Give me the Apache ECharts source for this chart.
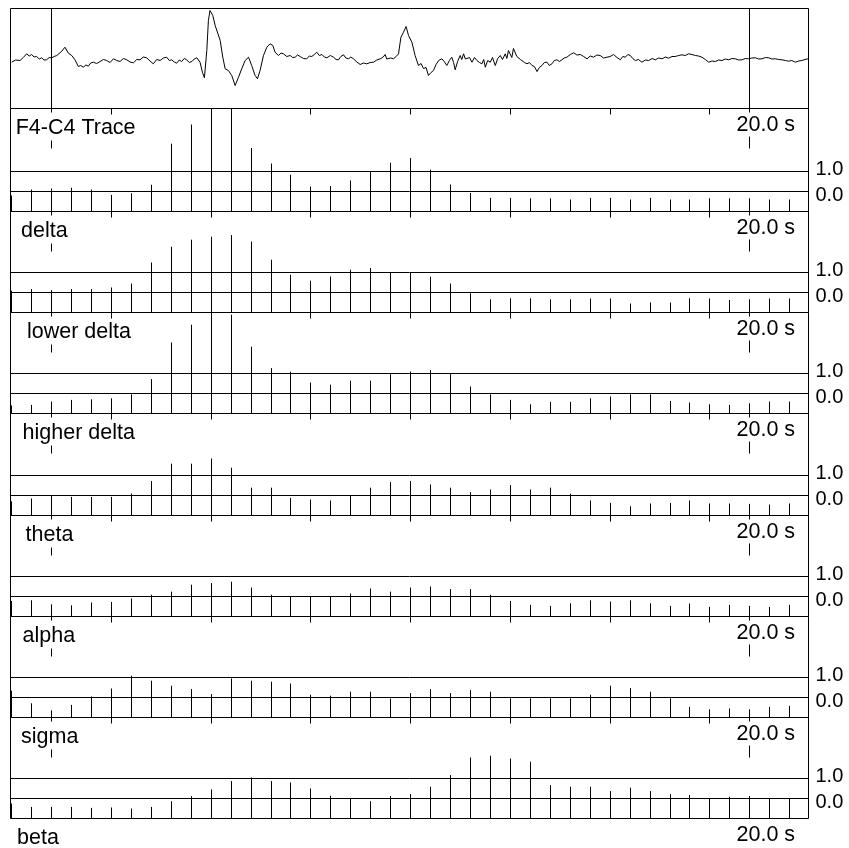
<!DOCTYPE html>
<html>
<head>
<meta charset="utf-8">
<script src="https://cdn.jsdelivr.net/npm/echarts@6.0.0/dist/echarts.min.js"></script>
<style>
    html, body { margin: 0; padding: 0; background: #fff; }
    #main { width: 849px; height: 848px; }
</style>
</head>
<body>
<div id="main"></div>
<script>
    'use strict';

    // labels
    var TRACE_LABEL = 'F4-C4 Trace';
    var BAND_NAMES = ['delta', 'lower delta', 'higher delta', 'theta', 'alpha', 'sigma', 'beta'];
    var WINDOW_LABEL = '20.0 s';

    // epoch positions (in epochs) of the window markers and the axis ticks
    var MARKERS = [2, 37];
    var TICK_STEPS = [5, 10, 15, 20, 25, 30, 35];
    var REF_LEVELS = [0, 1];

    // relative band power per epoch (bottom of a panel = -1.0)
    var DELTA = [-0.2, 0.1, 0.15, 0.19, 0.1, -0.17, -0.09, 0.34, 2.39, 3.35, 4.8, 4.6, 2.17, 1.4, 0.84, 0.25, 0.27, 0.55, 0.97, 1.44,
        1.67, 1.09, 0.35, -0.07, -0.32, -0.32, -0.34, -0.34, -0.4, -0.32, -0.32, -0.4, -0.32, -0.4, -0.4, -0.34, -0.34, -0.34, -0.4, -0.4];
    var LOWER_DELTA = [0.09, 0.17, 0.12, 0.17, 0.17, 0.25, 0.45, 1.5, 2.29, 2.64, 2.79, 2.87, 2.55, 1.64, 0.89, 0.59, 0.8, 1.14, 1.22, 1.0,
        1.0, 0.79, 0.45, -0.04, -0.34, -0.29, -0.29, -0.34, -0.34, -0.3, -0.3, -0.55, -0.5, -0.5, -0.29, -0.3, -0.37, -0.34, -0.3, -0.3];
    var HIGHER_DELTA = [-0.6, -0.57, -0.4, -0.32, -0.29, -0.24, -0.04, 0.72, 2.55, 3.44, 4.6, 3.94, 2.34, 1.27, 1.09, 0.55, 0.44, 0.64, 0.64, 0.97,
        1.1, 1.17, 0.97, 0.35, -0.04, -0.32, -0.54, -0.42, -0.42, -0.24, -0.15, -0.04, -0.04, -0.37, -0.45, -0.54, -0.57, -0.49, -0.4, -0.4];
    var THETA = [-0.29, -0.15, 0, -0.07, -0.07, -0.07, 0.1, 0.72, 1.59, 1.59, 1.85, 1.39, 0.39, 0.39, -0.12, -0.2, -0.25, 0, 0.39, 0.67,
        0.72, 0.55, 0.39, 0.17, 0.3, 0.52, 0.3, 0.39, 0.09, -0.25, -0.37, -0.54, -0.4, -0.37, -0.25, -0.4, -0.4, -0.42, -0.45, -0.4];
    var ALPHA = [-0.22, -0.19, -0.39, -0.44, -0.3, -0.27, -0.1, 0.09, 0.24, 0.59, 0.67, 0.74, 0.45, 0.09, 0, 0, 0, 0.15, 0.4, 0.24,
        0.45, 0.5, 0.37, 0.37, 0.09, -0.22, -0.42, -0.47, -0.34, -0.19, -0.25, -0.19, -0.34, -0.47, -0.35, -0.52, -0.42, -0.47, -0.52, -0.42];
    var SIGMA = [0.34, -0.29, -0.64, -0.37, 0.05, 0.45, 1.09, 0.84, 0.59, 0.42, 0.17, 0.95, 0.84, 0.79, 0.7, 0.14, 0.09, 0.29, 0.29, -0.05,
        0.22, 0.42, 0.22, 0.37, 0.29, -0.04, -0.04, -0.04, -0.04, 0.14, 0.59, 0.47, 0.29, -0.04, -0.47, -0.59, -0.55, -0.59, -0.47, -0.42];
    var BETA = [-0.25, -0.42, -0.42, -0.42, -0.47, -0.45, -0.5, -0.42, -0.14, 0.12, 0.45, 0.87, 1.05, 0.87, 0.8, 0.5, 0.14, 0, -0.14, 0.12,
        0.22, 0.59, 1.17, 2.05, 2.14, 2.0, 1.84, 0.67, 0.59, 0.59, 0.37, 0.54, 0.37, 0.22, 0.17, 0, 0.09, 0.12, 0, 0];
    var BANDS = [DELTA, LOWER_DELTA, HIGHER_DELTA, THETA, ALPHA, SIGMA, BETA];

    // raw F4-C4 trace: [time (epochs), amplitude]
    var TRACE = [
        [0, -3.7], [0.2, -1.5], [0.42, -2], [0.58, 1], [0.75, 4.7], [0.88, 2.5], [1.0, 4], [1.12, 1.5], [1.25, 2], [1.38, -0.5],
        [1.5, 0.7], [1.62, -1.5], [1.75, -1.3], [1.88, 1], [2.0, 0.7], [2.13, 2], [2.26, 3], [2.38, 5], [2.51, 7.3], [2.67, 11.3],
        [2.84, 5.3], [3.01, 3], [3.17, -1.3], [3.34, -8], [3.46, -7], [3.59, -8.7], [3.72, -6.5], [3.84, -7.7], [3.96, -4.5], [4.09, -3.7],
        [4.26, -5], [4.43, -3], [4.6, -1], [4.76, -2], [4.93, -4], [5.1, -0.3], [5.27, -2], [5.43, -3], [5.6, 0], [5.77, -1.3],
        [5.93, -3.5], [6.1, -4.3], [6.27, -1], [6.43, -1.3], [6.6, 1.5], [6.77, 0.7], [6.93, -2.5], [7.1, -5.3], [7.27, -1], [7.44, -2],
        [7.6, 0.5], [7.77, 1.3], [7.9, -2], [8.02, -1.3], [8.15, -3.5], [8.27, -4.7], [8.4, -1.5], [8.52, -3], [8.65, 0], [8.77, -1.3],
        [8.9, -4], [9.03, -3], [9.15, -0.5], [9.28, 0.7], [9.36, -1.5], [9.44, -3.7], [9.56, -13.7], [9.66, -19.3], [9.78, 8], [9.86, 38],
        [9.94, 48], [10.08, 43], [10.2, 33], [10.28, 31.3], [10.45, 18], [10.58, 1.3], [10.7, -10.3], [10.78, -9], [10.86, -12], [10.95, -11],
        [11.03, -17], [11.2, -27], [11.37, -18.7], [11.53, -10.3], [11.7, -2], [11.87, 1.3], [12.03, -7], [12.2, -17], [12.32, -20.3], [12.45, -12],
        [12.62, 3], [12.79, 11.3], [12.95, 14.7], [13.09, 13], [13.2, 6.3], [13.37, 3], [13.5, 5.5], [13.62, 4.7], [13.79, 2], [13.96, 3],
        [14.08, 1], [14.21, 1.3], [14.33, 3.5], [14.46, 2], [14.62, 0], [14.79, -0.3], [14.92, 2.5], [15.04, 2], [15.17, 4], [15.29, 6.3],
        [15.42, 3], [15.55, 4], [15.67, 1.5], [15.8, 0.7], [15.97, 3], [16.13, 1.3], [16.26, -1], [16.38, -1.3], [16.5, 2], [16.63, 3.7],
        [16.75, 0.5], [16.88, -0.3], [17.0, 1.5], [17.13, -0.3], [17.3, -3.5], [17.47, -6], [17.63, -4.5], [17.8, -5.3], [17.97, -4], [18.14, -3.7],
        [18.3, -1.5], [18.47, -0.3], [18.6, 1], [18.72, 4], [18.8, -0.5], [18.89, -2], [19.0, 0.5], [19.14, -0.3], [19.27, 2], [19.39, 4.7],
        [19.51, 21.3], [19.64, 26.3], [19.77, 32], [19.89, 23], [20.06, 16.3], [20.22, 3], [20.39, -7], [20.52, -5], [20.64, -10], [20.77, -9],
        [20.89, -17], [21.02, -14], [21.14, -12], [21.27, -6], [21.4, -2], [21.48, -4], [21.56, -0.3], [21.68, -3], [21.81, -7], [21.94, -2],
        [22.06, 1.3], [22.15, -4], [22.23, -11.3], [22.35, -3], [22.48, 3], [22.56, -1], [22.65, 4.7], [22.74, -0.5], [22.82, -2], [22.95, 1],
        [23.07, -3.7], [23.2, 1], [23.32, -2], [23.45, -4], [23.57, -5.3], [23.66, -1], [23.74, -8.7], [23.86, -2], [23.99, -3.7], [24.1, 1],
        [24.24, -7], [24.36, 0], [24.49, 3], [24.6, -1], [24.74, 4.7], [24.82, 0], [24.9, 8], [24.99, 6.3], [25.07, 1], [25.15, 10],
        [25.24, 8.7], [25.32, 2], [25.41, 3], [25.5, -1], [25.58, -2], [25.7, -4], [25.83, -5.3], [25.95, -4], [26.08, -7], [26.2, -8],
        [26.33, -13], [26.45, -9], [26.58, -7], [26.7, -4], [26.83, -3.7], [26.95, -7], [27.08, -5.3], [27.2, -2], [27.33, -1.3], [27.45, -3],
        [27.58, -1.3], [27.7, 0.5], [27.83, 1.3], [28.0, 4], [28.17, 5.7], [28.33, 3.5], [28.5, 4], [28.67, 2], [28.84, -0.3], [29.0, 2.5],
        [29.17, 1.3], [29.33, 3.5], [29.5, 3], [29.67, 0.5], [29.84, 1.3], [30.0, 2], [30.17, 4], [30.34, 1], [30.51, -1.3], [30.63, 2],
        [30.76, 1.3], [30.88, 4], [31.01, 3], [31.13, 0], [31.26, -2], [31.42, -1], [31.59, -3.7], [31.76, -1.5], [31.93, -2], [32.1, 0],
        [32.26, -1.3], [32.43, 0.5], [32.6, -0.3], [32.76, 1.5], [32.93, 0.3], [33.1, 2], [33.26, 2], [33.43, 3], [33.6, 3.7], [33.76, 3],
        [33.93, 4.7], [34.1, 4], [34.27, 3], [34.43, 2.5], [34.6, 1.3], [34.77, -1], [34.94, -3.7], [35.1, -2.5], [35.27, -3], [35.44, -1.5],
        [35.61, -2], [35.77, -0.5], [35.94, -1.3], [36.1, 0], [36.27, -0.3], [36.44, -1.5], [36.61, -1.3], [36.77, 0], [36.94, -0.3], [37.1, 0.5],
        [37.28, 0.7], [37.44, -0.5], [37.61, -0.3], [37.78, 1], [37.95, 0.7], [38.1, -0.5], [38.28, -0.3], [38.45, -1], [38.61, -1.3], [38.78, -2],
        [38.95, -2.7], [39.1, -2], [39.28, -3.7], [39.45, -2.5], [39.61, -2], [39.76, -1], [39.91, -0.3]
    ];

    // layout
    var FONT_FAMILY = '"Liberation Sans", Arial, sans-serif';
    var LEFT = 10.5;
    var WIDTH = 798;
    var TRACE_TOP = 8;
    var PANEL_TOPS = [108, 211, 312, 413, 515, 616, 717];
    var PANEL_BOTTOM = 818;
    var X_MIN = -0.06;
    var X_MAX = 39.94;
    var PX_PER_UNIT = 20;
    var NAME_X = [15.7, 21, 27, 22.6, 25.6, 22.5, 21, 17];
    var WINDOW_X = 736.5;
    var MARK_TOP = [32, 28];

    var chart = echarts.init(document.getElementById('main'), null, {renderer: 'canvas'});

    function hiddenAxis(extra) {
        var axis = {
            axisLine: {show: false},
            axisTick: {show: false},
            axisLabel: {show: false},
            splitLine: {show: false}
        };
        for (var key in extra) {
            axis[key] = extra[key];
        }
        return axis;
    }

    // stem from panel bottom up to the band value, clipped at the panel top
    function stemItem(params, api) {
        var cs = params.coordSys;
        var p = api.coord([api.value(0), api.value(1)]);
        var x = Math.floor(p[0]) + 0.5;
        return {
            type: 'line',
            shape: {x1: x, y1: cs.y + cs.height, x2: x, y2: Math.max(p[1], cs.y)},
            style: {stroke: '#000', lineWidth: 1}
        };
    }

    // ticks on the top edge of a panel; kind 1 = window marker with its short mark, kind 2 = full line
    function tickItem(params, api) {
        var cs = params.coordSys;
        var p = api.coord([api.value(0), 0]);
        var x = Math.floor(p[0]) + 0.5;
        var kind = api.value(1);
        var style = {stroke: '#000', lineWidth: 1};
        if (kind === 0) {
            return {type: 'line', shape: {x1: x, y1: cs.y, x2: x, y2: cs.y + 6}, style: style};
        }
        if (kind === 2) {
            return {type: 'line', shape: {x1: x, y1: cs.y, x2: x, y2: cs.y + cs.height}, style: style};
        }
        return {
            type: 'group',
            children: [
                {type: 'line', shape: {x1: x, y1: cs.y, x2: x, y2: cs.y + 4}, style: style},
                {type: 'line', shape: {x1: x, y1: cs.y + MARK_TOP[api.value(2)], x2: x, y2: cs.y + 40}, style: style}
            ]
        };
    }

    var grids = [];
    var xAxes = [];
    var yAxes = [];
    var series = [];

    // trace panel
    grids.push({left: LEFT, top: TRACE_TOP + 0.5, width: WIDTH, height: PANEL_TOPS[0] - TRACE_TOP,
        show: true, borderColor: '#000', borderWidth: 1, backgroundColor: 'transparent'});
    xAxes.push(hiddenAxis({type: 'value', gridIndex: 0, min: X_MIN, max: X_MAX}));
    yAxes.push(hiddenAxis({type: 'value', gridIndex: 0, min: -50, max: 50}));
    series.push({
        type: 'line',
        xAxisIndex: 0,
        yAxisIndex: 0,
        data: TRACE,
        symbol: 'none',
        lineStyle: {color: '#000', width: 1},
        silent: true
    });
    series.push({
        type: 'custom',
        xAxisIndex: 0,
        yAxisIndex: 0,
        data: MARKERS.map(function (m) { return [m, 2]; }),
        renderItem: tickItem,
        silent: true
    });

    // band panels
    BANDS.forEach(function (values, k) {
        var top = PANEL_TOPS[k];
        var bottom = k + 1 < PANEL_TOPS.length ? PANEL_TOPS[k + 1] : PANEL_BOTTOM;
        var h = bottom - top;
        var g = k + 1;
        grids.push({left: LEFT, top: top + 0.5, width: WIDTH, height: h,
            show: true, borderColor: '#000', borderWidth: 1, backgroundColor: 'transparent'});
        xAxes.push(hiddenAxis({type: 'value', gridIndex: g, min: X_MIN, max: X_MAX}));
        yAxes.push(hiddenAxis({
            type: 'value',
            gridIndex: g,
            position: 'right',
            min: -1,
            max: -1 + h / PX_PER_UNIT,
            axisLabel: {
                show: true,
                customValues: REF_LEVELS,
                margin: 7,
                formatter: function (v) {
                    return (v > 0 ? '{u|' : '{d|') + v.toFixed(1) + '}';
                },
                rich: {
                    u: {fontSize: 20, fontFamily: FONT_FAMILY, color: '#000', padding: [0, 0, 5, 0]},
                    d: {fontSize: 20, fontFamily: FONT_FAMILY, color: '#000', padding: [7, 0, 0, 0]}
                }
            }
        }));
        series.push({
            type: 'custom',
            name: BAND_NAMES[k],
            xAxisIndex: g,
            yAxisIndex: g,
            data: values.map(function (v, i) { return [i, v]; }),
            renderItem: stemItem,
            silent: true,
            markLine: {
                silent: true,
                symbol: ['none', 'none'],
                label: {show: false},
                lineStyle: {color: '#000', type: 'solid', width: 1},
                data: REF_LEVELS.map(function (v) { return {yAxis: v}; })
            }
        });
        series.push({
            type: 'custom',
            xAxisIndex: g,
            yAxisIndex: g,
            data: TICK_STEPS.map(function (t) { return [t, 0, 0]; })
                .concat(MARKERS.map(function (m, j) { return [m, 1, j]; })),
            renderItem: tickItem,
            silent: true
        });
    });

    // panel names and window labels
    var labelTops = PANEL_TOPS.concat([PANEL_BOTTOM]);
    var graphics = [];
    labelTops.forEach(function (top, k) {
        graphics.push({
            type: 'text',
            x: NAME_X[k],
            y: top + 20.5,
            style: {
                text: k === 0 ? TRACE_LABEL : BAND_NAMES[k - 1],
                fill: '#000',
                fontSize: 21.5,
                fontFamily: FONT_FAMILY,
                align: 'left',
                verticalAlign: 'middle'
            }
        });
        graphics.push({
            type: 'text',
            x: WINDOW_X,
            y: top + 17.5,
            style: {
                text: WINDOW_LABEL,
                fill: '#000',
                fontSize: 21.5,
                fontFamily: FONT_FAMILY,
                align: 'left',
                verticalAlign: 'middle'
            }
        });
    });

    chart.setOption({
        backgroundColor: '#fff',
        animation: false,
        grid: grids,
        xAxis: xAxes,
        yAxis: yAxes,
        series: series,
        graphic: graphics
    });
</script>
</body>
</html>
